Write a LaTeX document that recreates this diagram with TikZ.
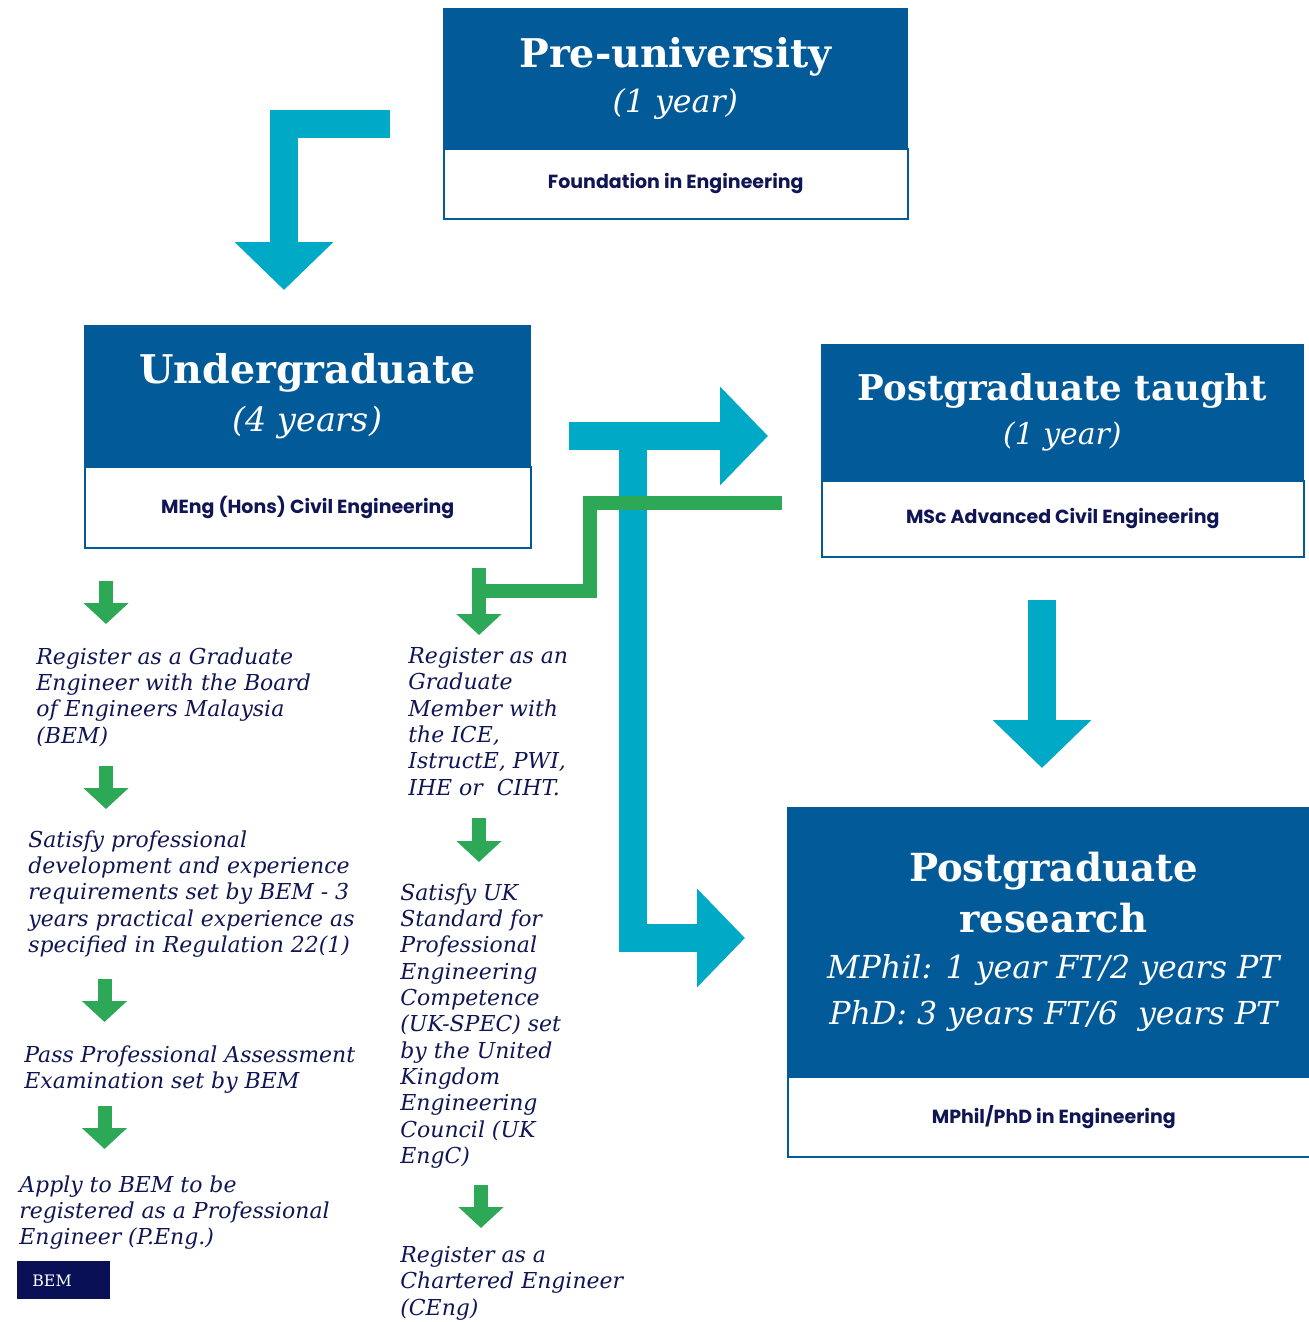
\documentclass[tikz,border=0pt]{standalone}
\usepackage{fontspec}
\setmainfont{DejaVu Serif}
\newfontfamily\labelsans{Poppins}
\usetikzlibrary{arrows.meta}

\begin{document}
\begin{tikzpicture}[
        x=0.2mm, y=-0.2mm,
        headbox/.style={rectangle, fill=boxblue, draw=boxblue, anchor=north west, inner sep=0pt, text=white, align=center},
        subbox/.style={rectangle, fill=white, draw=boxblue, line width=0.3mm, anchor=north west, inner sep=0pt, text=inknavy, align=center, font=\labelsans\bfseries\fontsize{10.8}{12}\selectfont},
        steptext/.style={anchor=north west, inner sep=0pt, align=left, text=inknavy, font=\itshape\fontsize{12.5}{15}\selectfont},
        bigarrow/.style={draw=arrowcyan, line width=5.7mm, -{Triangle[width=19.2mm, length=9.6mm]}},
        stepline/.style={draw=stepgreen, line width=2.8mm},
        steparrow/.style={draw=stepgreen, line width=2.8mm, -{Triangle[width=8.8mm, length=4.2mm]}},
    ]
        \definecolor{boxblue}{RGB}{2,90,152}
        \definecolor{arrowcyan}{RGB}{0,170,198}
        \definecolor{stepgreen}{RGB}{44,168,87}
        \definecolor{inknavy}{RGB}{16,22,84}
        \definecolor{bemnavy}{RGB}{10,16,86}

        \useasboundingbox (0,0) rectangle (1309,1322);
        \clip (0,0) rectangle (1309,1322);

        % Programme boxes
        \node[subbox, minimum width=92.8mm, minimum height=14mm] (preSub) at (443,148) {Foundation in Engineering};
        \node[headbox, minimum width=92.8mm, minimum height=28mm, font=\fontsize{18}{26}\selectfont] (preTitle) at (443,8)
            {{\bfseries\fontsize{22.5}{26}\selectfont Pre-university}\\{\itshape (1 year)}};

        \node[subbox, minimum width=89.2mm, minimum height=16.2mm] (ugSub) at (84,466) {MEng (Hons) Civil Engineering};
        \node[headbox, minimum width=89.2mm, minimum height=28.2mm, font=\fontsize{19}{27.5}\selectfont] (ugTitle) at (84,325)
            {{\bfseries\fontsize{22.5}{27.5}\selectfont Undergraduate}\\{\itshape (4 years)}};

        \node[subbox, minimum width=96.4mm, minimum height=15.2mm] (pgtSub) at (821,480) {MSc Advanced Civil Engineering};
        \node[headbox, minimum width=96.4mm, minimum height=27.2mm, font=\fontsize{17}{25}\selectfont] (pgtTitle) at (821,344)
            {{\bfseries\fontsize{20.2}{25}\selectfont Postgraduate taught}\\{\itshape (1 year)}};

        \node[subbox, minimum width=106.4mm, minimum height=16mm] (pgrSub) at (787,1076) {MPhil/PhD in Engineering};
        \node[headbox, minimum width=106.4mm, minimum height=53.8mm, font=\fontsize{18}{26}\selectfont] (pgrTitle) at (787,807)
            {{\bfseries\fontsize{22}{29}\selectfont Postgraduate}\\[3pt]{\bfseries\fontsize{22}{29}\selectfont research}\\
             {\itshape MPhil: 1 year FT/2 years PT}\\{\itshape PhD: 3 years FT/6\ \ years PT}};

        % BEM route
        \node[steptext] (bemA) at (36,647) {Register as a Graduate\\Engineer with the Board\\of Engineers Malaysia\\(BEM)};
        \node[steptext] (bemB) at (28,830) {Satisfy professional\\development and experience\\requirements set by BEM - 3\\years practical experience as\\specified in Regulation 22(1)};
        \node[steptext] (bemC) at (24,1045) {Pass Professional Assessment\\Examination set by BEM};
        \node[steptext] (bemD) at (19,1175) {Apply to BEM to be\\registered as a Professional\\Engineer (P.Eng.)};
        \node[anchor=north west, fill=bemnavy, text=white, minimum height=7.6mm, text width=12.6mm, inner xsep=3mm, inner ysep=0pt,
              align=left, font=\fontsize{9}{10}\selectfont] (bemTag) at (17,1261) {BEM};

        % ICE route
        \node[steptext] (iceA) at (408,647) {Register as an\\Graduate\\Member with\\the ICE,\\IstructE, PWI,\\IHE or\ \ CIHT.};
        \node[steptext] (iceB) at (400,883) {Satisfy UK\\Standard for\\Professional\\Engineering\\Competence\\(UK-SPEC) set\\by the United\\Kingdom\\Engineering\\Council (UK\\EngC)};
        \node[steptext] (iceC) at (400,1246) {Register as a\\Chartered Engineer\\(CEng)};

        % Big arrows
        \coordinate (preOut) at (390,124);
        \coordinate (ugIn) at (284,290);
        \coordinate (ugOut) at (569,436);
        \coordinate (split) at (633,436);
        \coordinate (pgtIn) at (768,436);
        \coordinate (pgrIn) at (745,938);
        \coordinate (pgtOut) at (1042,600);
        \coordinate (pgrTop) at (1042,768);

        \draw[bigarrow] (preOut) -| (ugIn);
        \draw[bigarrow] (split) |- (pgrIn);
        \draw[bigarrow] (ugOut) -- (pgtIn);
        \draw[bigarrow] (pgtOut) -- (pgrTop);

        % Step arrows
        \coordinate (gFrom) at (782,503);
        \coordinate (gBend) at (590,591);
        \coordinate (gJoin) at (479,591);
        \coordinate (iceTop) at (479,568);
        \coordinate (iceIn) at (479,635);
        \draw[stepline] (gFrom) -| (gBend) -- (gJoin);
        \draw[steparrow] (iceTop) -- (iceIn);

        \coordinate (b1) at (106,581);   \coordinate (b1e) at (106,624);
        \coordinate (b2) at (106,766);   \coordinate (b2e) at (106,809);
        \coordinate (b3) at (104.5,979); \coordinate (b3e) at (104.5,1022);
        \coordinate (b4) at (104.5,1106);\coordinate (b4e) at (104.5,1149);
        \coordinate (i1) at (479,818);   \coordinate (i1e) at (479,862);
        \coordinate (i2) at (481,1185);  \coordinate (i2e) at (481,1228);
        \draw[steparrow] (b1) -- (b1e);
        \draw[steparrow] (b2) -- (b2e);
        \draw[steparrow] (b3) -- (b3e);
        \draw[steparrow] (b4) -- (b4e);
        \draw[steparrow] (i1) -- (i1e);
        \draw[steparrow] (i2) -- (i2e);

    \end{tikzpicture}
\end{document}
